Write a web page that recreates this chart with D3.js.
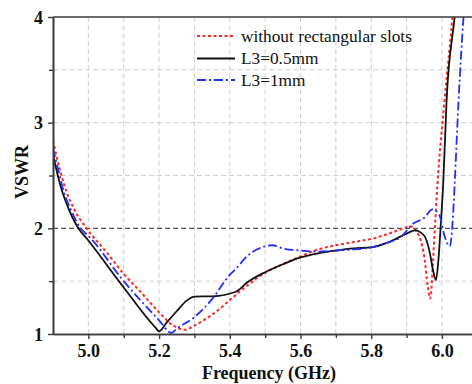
<!DOCTYPE html>
<html><head><meta charset="utf-8">
<script src="https://cdn.jsdelivr.net/npm/d3@7"></script>
<style>body{margin:0;background:#fff}svg{display:block}</style>
</head><body>
<svg id="c" width="472" height="384"></svg>
<script>
// ---- data ----
const seriesNames = ["without rectangular slots", "L3=0.5mm", "L3=1mm"];
const freqRed = [4.9,4.92,4.939,4.96,4.995,5.05,5.1,5.15,5.2,5.24,5.273,5.3,5.353,5.417,5.45,5.5,5.55,5.6,5.65,5.7,5.75,5.8,5.85,5.9,5.91,5.93,5.95,5.96,5.967,5.975,5.98,5.987,6.007,6.03,6.045];
const vswrRed = [2.83,2.55,2.34,2.18,2.0,1.78,1.57,1.39,1.205,1.08,1.04,1.08,1.19,1.37,1.46,1.58,1.66,1.735,1.80,1.84,1.87,1.90,1.95,2.01,2.02,1.96,1.73,1.45,1.335,1.7,2.0,2.4,3.2,4.0,4.6];
const freqBlack = [4.9,4.91,4.925,4.94,4.97,5.0,5.1,5.19,5.2,5.222,5.251,5.278,5.3,5.35,5.417,5.45,5.5,5.55,5.6,5.65,5.7,5.75,5.8,5.85,5.9,5.923,5.95,5.965,5.975,5.983,5.99,5.996,6.004,6.013,6.036,6.05];
const vswrBlack = [2.70,2.55,2.36,2.22,2.01,1.885,1.44,1.06,1.025,1.11,1.22,1.316,1.354,1.357,1.40,1.49,1.585,1.66,1.725,1.764,1.79,1.81,1.82,1.87,1.95,1.98,1.93,1.78,1.6,1.51,1.7,2.0,2.45,3.2,4.0,4.5];
const freqBlue = [4.9,4.915,4.931,4.95,4.978,5.0,5.1,5.2,5.235,5.25,5.3,5.35,5.4,5.417,5.45,5.5,5.52,5.55,5.6,5.65,5.7,5.75,5.8,5.85,5.881,5.919,5.95,5.973,5.992,6.008,6.022,6.03,6.036,6.047,6.061,6.075];
const vswrBlue = [2.76,2.55,2.34,2.18,2.0,1.93,1.50,1.13,1.01,1.05,1.16,1.33,1.56,1.615,1.74,1.83,1.84,1.81,1.79,1.78,1.79,1.80,1.82,1.87,1.91,2.045,2.10,2.18,2.13,1.92,1.83,2.05,2.42,3.21,4.0,4.6];
const xMajorTicks = [5.0,5.2,5.4,5.6,5.8,6.0];
const xMinorTicks = [5.1,5.3,5.5,5.7,5.9];
const yMajorTicks = [1,2,3,4];
const yMinorTicks = [1.5,2.5,3.5];
const xGrid = [5.0,5.1,5.2,5.3,5.4,5.5,5.6,5.7,5.8,5.9,6.0];
const yGrid = [1.5,2.5,3,3.5];
const refLine = 2;

// ---- layout ----
const svg = d3.select("#c");
const L = 53, R = 472, T = 17, B = 334;
const x = d3.scaleLinear().domain([4.9, 6.085]).range([L, R]);
const y = d3.scaleLinear().domain([1, 4]).range([B, T]);
const serif = "'Liberation Serif','Times New Roman',serif";
const axisCol = "#3a3a3a";

svg.append("defs").append("clipPath").attr("id","clip")
  .append("rect").attr("x",L).attr("y",T).attr("width",R-L).attr("height",B-T);

// grid
const g = svg.append("g");
g.selectAll(".gx").data(xGrid).enter().append("line")
  .attr("x1",d=>x(d)).attr("x2",d=>x(d)).attr("y1",T).attr("y2",B)
  .attr("stroke","#cfcfcf").attr("stroke-width",1).attr("stroke-dasharray","5,3");
g.selectAll(".gy").data(yGrid).enter().append("line")
  .attr("x1",L).attr("x2",R).attr("y1",d=>y(d)).attr("y2",d=>y(d))
  .attr("stroke","#cfcfcf").attr("stroke-width",1).attr("stroke-dasharray","5,3");
g.append("line").attr("x1",L).attr("x2",R).attr("y1",y(refLine)).attr("y2",y(refLine))
  .attr("stroke","#555").attr("stroke-width",1.2).attr("stroke-dasharray","5,3");

// curves
const line = d3.line().x(d=>x(d[0])).y(d=>y(d[1])).curve(d3.curveMonotoneX);
const curves = svg.append("g").attr("clip-path","url(#clip)");
const styles = [
  {f:freqRed, v:vswrRed, c:"#ff2a2a", w:2, dash:"3,2.5"},
  {f:freqBlack, v:vswrBlack, c:"#111", w:1.8, dash:null},
  {f:freqBlue, v:vswrBlue, c:"#1f2fff", w:1.8, dash:"9,3,2,3"}
];
styles.forEach(s=>{
  curves.append("path").datum(s.f.map((f,i)=>[f,s.v[i]]))
    .attr("d",line).attr("fill","none").attr("stroke",s.c)
    .attr("stroke-width",s.w).attr("stroke-dasharray",s.dash);
});

// axes
const xa = svg.append("g").attr("transform",`translate(0,${B})`)
  .call(d3.axisBottom(x).tickValues(xMajorTicks).tickFormat(d3.format(".1f")).tickSize(5).tickSizeOuter(0));
const xm = svg.append("g").attr("transform",`translate(0,${B})`)
  .call(d3.axisBottom(x).tickValues(xMinorTicks).tickFormat("").tickSize(4).tickSizeOuter(0));
const ya = svg.append("g").attr("transform",`translate(${L},0)`)
  .call(d3.axisLeft(y).tickValues(yMajorTicks).tickFormat(d3.format("d")).tickSize(5).tickSizeOuter(0));
const ym = svg.append("g").attr("transform",`translate(${L},0)`)
  .call(d3.axisLeft(y).tickValues(yMinorTicks).tickFormat("").tickSize(4).tickSizeOuter(0));
[xa,xm,ya,ym].forEach(a=>{
  a.select(".domain").attr("stroke",axisCol).attr("stroke-width",1.6);
  a.selectAll(".tick line").attr("stroke",axisCol).attr("stroke-width",1.4);
  a.selectAll("text").attr("font-family",serif).attr("font-weight","bold")
    .attr("font-size",18).attr("fill","#111");
});
xa.selectAll("text").attr("dy","0.71em").attr("y",10);
ya.selectAll("text").attr("x",-10).attr("dy","0.34em");
// top border
svg.append("line").attr("x1",L).attr("x2",R).attr("y1",T).attr("y2",T)
  .attr("stroke",axisCol).attr("stroke-width",1.6);

// titles
svg.append("text").attr("x",269).attr("y",379).attr("text-anchor","middle")
  .attr("font-family",serif).attr("font-weight","bold").attr("font-size",18)
  .attr("fill","#111").text("Frequency (GHz)");
svg.append("text").attr("transform","translate(28,172) rotate(-90)").attr("text-anchor","middle")
  .attr("font-family",serif).attr("font-weight","bold").attr("font-size",18)
  .attr("fill","#111").text("VSWR");

// legend
const lg = svg.append("g");
const ly = [36, 58.5, 80];
styles.forEach((s,i)=>{
  lg.append("line").attr("x1",197).attr("x2",235).attr("y1",ly[i]).attr("y2",ly[i])
    .attr("stroke",s.c).attr("stroke-width",s.w).attr("stroke-dasharray",s.dash);
  lg.append("text").attr("x",241).attr("y",ly[i]).attr("dy","0.33em")
    .attr("font-family",serif).attr("font-size",17.3).attr("fill","#111").text(seriesNames[i]);
});
</script>
</body></html>
